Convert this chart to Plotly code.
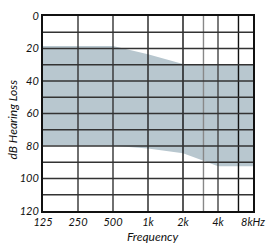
import plotly.graph_objects as go

# Data
freq = [125, 250, 500, 1000, 2000, 3000, 4000, 8000]
upper_db = [18.5, 18.5, 18.5, 23.5, 29.5, 29.5, 29.5, 29.5]
lower_db = [79.5, 79.5, 79.8, 81.5, 84.5, 89.0, 92.5, 92.5]

x_tickvals = [125, 250, 500, 1000, 2000, 4000, 8000]
x_ticktext = ["125", "250", "500", "1k", "2k", "4k", "8kHz"]
y_tickvals = [0, 20, 40, 60, 80, 100, 120]
y_ticktext = ["0", "20", "40", "60", "80", "100", "120"]

v_grid = [250, 500, 1000, 2000, 3000, 4000, 6000]
v_grid_color = ["#333", "#333", "#222", "#111", "#888", "#444", "#111"]
h_grid = [10, 20, 30, 40, 50, 60, 70, 80, 90, 100, 110]

fill_color = "rgb(184,199,207)"
font_family = "Lato"

fig = go.Figure()
fig.add_trace(go.Scatter(x=freq, y=upper_db, mode="lines",
                         line=dict(width=0, color=fill_color), showlegend=False,
                         hoverinfo="skip"))
fig.add_trace(go.Scatter(x=freq, y=lower_db, mode="lines", fill="tonexty",
                         fillcolor=fill_color,
                         line=dict(width=0, color=fill_color), showlegend=False,
                         hoverinfo="skip"))

shapes = []
for f, c in zip(v_grid, v_grid_color):
    shapes.append(dict(type="line", xref="x", yref="paper", x0=f, x1=f, y0=0, y1=1,
                       line=dict(color=c, width=1.4), layer="above"))
for d in h_grid:
    shapes.append(dict(type="line", xref="paper", yref="y", x0=0, x1=1, y0=d, y1=d,
                       line=dict(color="#333", width=1.4), layer="above"))

tickfont = dict(family=font_family, size=11, color="#111", style="italic")

fig.update_layout(
    width=270, height=248,
    margin=dict(l=43, r=17, t=16, b=37, pad=0),
    paper_bgcolor="white", plot_bgcolor="white",
    shapes=shapes,
    xaxis=dict(type="log", range=[2.09691, 3.90309], tickvals=x_tickvals,
               ticktext=x_ticktext, showgrid=False, zeroline=False,
               showline=True, mirror=True, linecolor="#111", linewidth=2,
               ticks="", tickfont=tickfont, layer="above traces",
               automargin=False),
    yaxis=dict(range=[120, 0], tickvals=y_tickvals, ticktext=y_ticktext,
               showgrid=False, zeroline=False, showline=True, mirror=True,
               linecolor="#111", linewidth=2, ticks="", tickfont=tickfont,
               layer="above traces", automargin=False),
    annotations=[
        dict(text="Frequency", xref="paper", yref="paper", x=0.5, y=-0.13,
             xanchor="center", yanchor="middle", showarrow=False,
             font=dict(family=font_family, size=12, color="#111", style="italic"),
             xshift=4),
        dict(text="dB Hearing Loss", xref="paper", yref="paper", x=0, y=0.5,
             xanchor="center", yanchor="middle", showarrow=False, textangle=-90,
             font=dict(family=font_family, size=12, color="#111", style="italic"),
             xshift=-31, yshift=-6),
    ],
)

fig.write_html("out.html")
